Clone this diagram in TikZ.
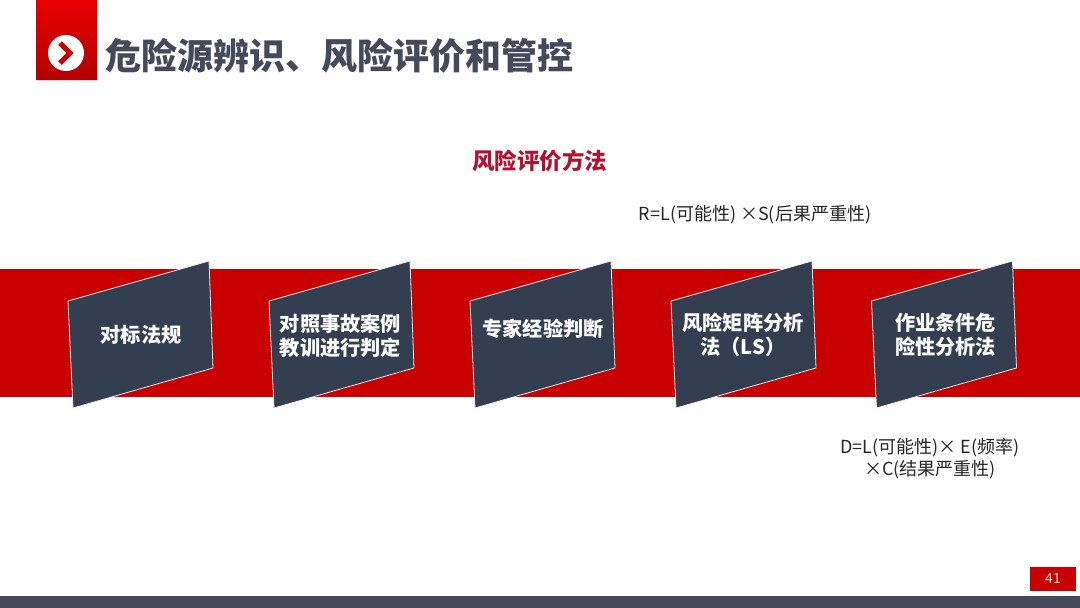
\documentclass[tikz,border=0pt]{standalone}
\usepackage{fontspec}
\setmainfont{Noto Sans CJK SC}
\usepackage{xcolor}
\usetikzlibrary{shadows}
\definecolor{bandred}{HTML}{C80000}
\definecolor{panelblue}{HTML}{333F50}
\definecolor{titlegray}{HTML}{444A5C}
\definecolor{headred}{HTML}{B3122F}
\tikzset{
  panel/.style={draw=white!90!red,line width=0.8pt,fill=panelblue},
  paneltext/.style={text=white,font=\fontsize{20.2}{23.5}\selectfont\bfseries,align=center,inner sep=0pt},
  formula/.style={text=black!85,font=\fontsize{18}{22}\selectfont,align=center,inner sep=0pt},
}

\begin{document}
\begin{tikzpicture}[x=1pt,y=-1pt]
\useasboundingbox (0,0) rectangle (1080,608);

% header
\fill[top color=red!92!black,bottom color=red!70!black,drop shadow={shadow xshift=1pt,shadow yshift=-1.5pt,opacity=0.3}] (36,0) rectangle (97,79);
\node[circle,fill=white,minimum size=36pt,inner sep=0pt] (mark) at (66,53) {};
\draw[red!80!black,line width=5pt,miter limit=4] (60,43) -- (70,53) -- (60,63);
\node[text=titlegray,font=\fontsize{36}{40}\selectfont\bfseries,inner sep=0pt] (title) at (339.5,55.5) {危险源辨识、风险评价和管控};
\node[text=headred,font=\fontsize{22.5}{26}\selectfont\bfseries,inner sep=0pt] (head) at (539.5,161) {风险评价方法};

% band
\fill[bandred] (0,269) rectangle (1080,397);

% panels
\foreach \s in {0,201,402,603,803.5} {
  \draw[panel,xshift=\s pt] (68,301) -- (209,261) -- (213,368) -- (73,408) -- cycle;
}

\node[paneltext] (law) at (141,334.5) {对标法规};
\node[paneltext] (case) at (340.5,336) {对照事故案例\\教训进行判定};
\node[paneltext] (expert) at (543,328.5) {专家经验判断};
\node[paneltext] (matrix) at (743,335) {风险矩阵分析\\法（LS）};
\node[paneltext] (lec) at (945.5,335) {作业条件危\\险性分析法};

% formulas
\node[formula] (rformula) at (755,215) {R=L(可能性) ×S(后果严重性)};
\node[formula] (dformula) at (930,459) {D=L(可能性)× E(频率)\\×C(结果严重性)};

% footer
\fill[titlegray] (0,596) rectangle (1080,608);
\node[fill=bandred,text=white!85!red,minimum width=46pt,minimum height=24pt,inner sep=0pt,font=\fontsize{14}{16}\selectfont] (page) at (1053,579) {41};

\end{tikzpicture}
\end{document}
